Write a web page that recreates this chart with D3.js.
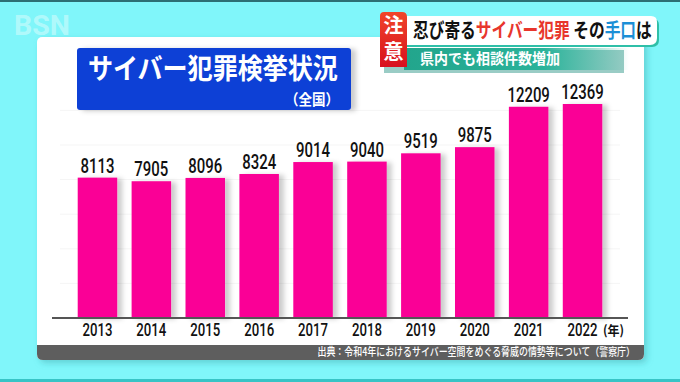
<!DOCTYPE html>
<html>
<head>
<meta charset="utf-8">
<script src="https://cdn.jsdelivr.net/npm/d3@7"></script>
<style>
  html, body { margin: 0; padding: 0; background: #80f6fa; }
  svg { display: block; }
  .jp { font-family: "Noto Sans CJK JP", "Noto Sans", sans-serif; }
  .num { font-family: Roboto, "Liberation Sans", Arial, sans-serif; }
</style>
</head>
<body>
<div id="graph"></div>
<script>
// data
var years = ['2013', '2014', '2015', '2016', '2017', '2018', '2019', '2020', '2021', '2022'];
var counts = [8113, 7905, 8096, 8324, 9014, 9040, 9519, 9875, 12209, 12369];
var gridTicks = [2000, 4000, 6000, 8000, 10000, 12000];

var title = 'サイバー犯罪検挙状況';
var subtitle = '（全国）';
var unitLabel = '(年)';
var sourceText = '出典：令和4年におけるサイバー空間をめぐる脅威の情勢等について（警察庁）';
var headline = [
  {t: '忍び寄る', c: '#111'},
  {t: 'サイバー犯罪', c: '#e8362c'},
  {t: ' その', c: '#111'},
  {t: '手口', c: '#1b8fd6'},
  {t: 'は', c: '#111'}
];
var subHeadline = '県内でも相談件数増加';
var badge = '注意';

var width = 680, height = 382;
var baseY = 318;

// squeeze a text horizontally round its anchor point to a given width
function condense(sel, w) {
  sel.each(function() {
    var t = d3.select(this);
    var len = this.getComputedTextLength();
    var s = w / len;
    var x0 = +t.attr('x'), y0 = +t.attr('y');
    t.attr('transform', 'translate(' + x0 + ',' + y0 + ') scale(' + s + ',1) translate(' + (-x0) + ',' + (-y0) + ')');
  });
}

var svg = d3.select('#graph').html('')
  .append('svg')
    .attr('width', width)
    .attr('height', height);

var defs = svg.append('defs');

var sh = defs.append('filter').attr('id', 'barShadow')
  .attr('x', '-20%').attr('y', '-10%').attr('width', '160%').attr('height', '130%');
sh.append('feDropShadow').attr('dx', 5).attr('dy', 1).attr('stdDeviation', 2.5)
  .attr('flood-color', '#000').attr('flood-opacity', 0.2);

var psh = defs.append('filter').attr('id', 'panelShadow')
  .attr('x', '-5%').attr('y', '-5%').attr('width', '110%').attr('height', '115%');
psh.append('feDropShadow').attr('dx', 3).attr('dy', 3).attr('stdDeviation', 3)
  .attr('flood-color', '#2a8a90').attr('flood-opacity', 0.35);

var redGrad = defs.append('linearGradient').attr('id', 'redGrad')
  .attr('x1', 0).attr('y1', 0).attr('x2', 0).attr('y2', 1);
redGrad.append('stop').attr('offset', '0%').attr('stop-color', '#f0452a');
redGrad.append('stop').attr('offset', '100%').attr('stop-color', '#d8101e');

var tealGrad = defs.append('linearGradient').attr('id', 'tealGrad')
  .attr('x1', 0).attr('y1', 0).attr('x2', 1).attr('y2', 0);
tealGrad.append('stop').attr('offset', '0%').attr('stop-color', '#22a58c');
tealGrad.append('stop').attr('offset', '62%').attr('stop-color', '#2ab39a');
tealGrad.append('stop').attr('offset', '100%').attr('stop-color', '#2ab39a').attr('stop-opacity', 0);

// background strips
svg.append('rect').attr('x', 0).attr('y', 0).attr('width', width).attr('height', 2).attr('fill', '#2c6f74');
svg.append('rect').attr('x', 0).attr('y', 379).attr('width', width).attr('height', 3).attr('fill', '#38c4c6');

// station logo
svg.append('text').attr('class', 'num')
  .attr('x', 14).attr('y', 35)
  .attr('font-size', 27).attr('font-weight', 'bold')
  .attr('fill', '#fff').attr('fill-opacity', 0.4)
  .text('BSN')
  .call(condense, 56);

// white panel
svg.append('rect')
  .attr('x', 37).attr('y', 37).attr('width', 607).attr('height', 323)
  .attr('rx', 5).attr('fill', '#fff').attr('filter', 'url(#panelShadow)');

// footer bar
svg.append('path')
  .attr('d', 'M37,345 H644 V354 Q644,360 638,360 H43 Q37,360 37,354 Z')
  .attr('fill', '#5e5e5e');
svg.append('text').attr('class', 'jp')
  .attr('x', 635).attr('y', 356.5)
  .attr('text-anchor', 'end')
  .attr('font-size', 11).attr('font-weight', 500)
  .attr('fill', '#fff')
  .text(sourceText)
  .call(condense, 318);

// scales
var x = d3.scaleBand()
  .domain(years)
  .range([52, 628])
  .paddingInner(0.267)
  .paddingOuter(0.477);

var y = d3.scaleLinear()
  .domain([0, 12369])
  .range([baseY, 104]);

// faint gridlines
svg.append('g').selectAll('line')
  .data(gridTicks)
  .enter().append('line')
    .attr('x1', 60).attr('x2', 620)
    .attr('y1', d => y(d)).attr('y2', d => y(d))
    .attr('stroke', '#f5f5f5').attr('stroke-width', 1);

// bars
svg.append('g').selectAll('rect')
  .data(counts)
  .enter().append('rect')
    .attr('x', (d, i) => x(years[i]))
    .attr('y', d => y(d))
    .attr('width', x.bandwidth())
    .attr('height', d => baseY - y(d))
    .attr('fill', '#fa0096')
    .attr('filter', 'url(#barShadow)');

// value labels
svg.append('g').selectAll('text')
  .data(counts)
  .enter().append('text')
    .attr('class', 'num')
    .attr('x', (d, i) => x(years[i]) + x.bandwidth() / 2)
    .attr('y', d => y(d) - 5)
    .attr('text-anchor', 'middle')
    .attr('font-size', 21)
    .attr('font-weight', 500)
    .attr('fill', '#111')
    .text(d => d)
    .each(function(d) { condense(d3.select(this), String(d).length * 8.5); });

// axis line
svg.append('line')
  .attr('x1', x.range()[0]).attr('x2', x.range()[1])
  .attr('y1', baseY).attr('y2', baseY)
  .attr('stroke', '#555').attr('stroke-width', 2);

// year labels
svg.append('g').selectAll('text')
  .data(years)
  .enter().append('text')
    .attr('class', 'num')
    .attr('x', d => x(d) + x.bandwidth() / 2)
    .attr('y', 336)
    .attr('text-anchor', 'middle')
    .attr('font-size', 18)
    .attr('font-weight', 500)
    .attr('fill', '#111')
    .text(d => d)
    .call(condense, 30);

svg.append('text').attr('class', 'jp')
  .attr('x', 603).attr('y', 335)
  .attr('font-size', 13).attr('font-weight', 'bold')
  .attr('fill', '#111')
  .text(unitLabel)
  .call(condense, 21);

// title box
svg.append('rect')
  .attr('x', 77).attr('y', 48).attr('width', 274).attr('height', 62)
  .attr('rx', 3).attr('fill', '#0d3fd6')
  .attr('filter', 'url(#barShadow)');
svg.append('text').attr('class', 'jp')
  .attr('x', 88).attr('y', 79)
  .attr('font-size', 28).attr('font-weight', 'bold')
  .attr('fill', '#fff')
  .text(title)
  .call(condense, 250);
svg.append('text').attr('class', 'jp')
  .attr('x', 339).attr('y', 105)
  .attr('text-anchor', 'end')
  .attr('font-size', 15).attr('font-weight', 'bold')
  .attr('fill', '#fff')
  .text(subtitle)
  .call(condense, 54);

// caption (top right)
svg.append('rect')
  .attr('x', 384).attr('y', 50).attr('width', 240).attr('height', 23)
  .attr('fill', '#1f8f7e').attr('fill-opacity', 0.45);
svg.append('rect')
  .attr('x', 404).attr('y', 48).attr('width', 225).attr('height', 22)
  .attr('fill', 'url(#tealGrad)');
svg.append('text').attr('class', 'jp')
  .attr('x', 420).attr('y', 64.5)
  .attr('font-size', 15).attr('font-weight', 'bold')
  .attr('fill', '#fff')
  .text(subHeadline)
  .call(condense, 140);

svg.append('path')
  .attr('d', 'M402,19 H653 Q659,19 659,25 V40 Q659,47 652,47 H402 Z')
  .attr('fill', '#2fbfa8');
svg.append('path')
  .attr('d', 'M402,16 H651 Q657,16 657,22 V38 Q657,45 650,45 H402 Z')
  .attr('fill', '#fff');

var hl = svg.append('text').attr('class', 'jp')
  .attr('x', 413).attr('y', 38.5)
  .attr('font-size', 20).attr('font-weight', 'bold');
hl.selectAll('tspan')
  .data(headline)
  .enter().append('tspan')
    .attr('fill', d => d.c)
    .text(d => d.t);
hl.call(condense, 239);

svg.append('path')
  .attr('d', 'M384,12 H402 Q407,12 407,17 V67 H380 V16 Q380,12 384,12 Z')
  .attr('fill', 'url(#redGrad)');
// badge set as one vertical text
svg.append('text').attr('class', 'jp')
  .attr('x', 393.5).attr('y', 15)
  .style('writing-mode', 'vertical-rl')
  .attr('font-size', 20).attr('font-weight', 'bold')
  .attr('letter-spacing', 6)
  .attr('fill', '#fff')
  .text(badge);
</script>
</body>
</html>
